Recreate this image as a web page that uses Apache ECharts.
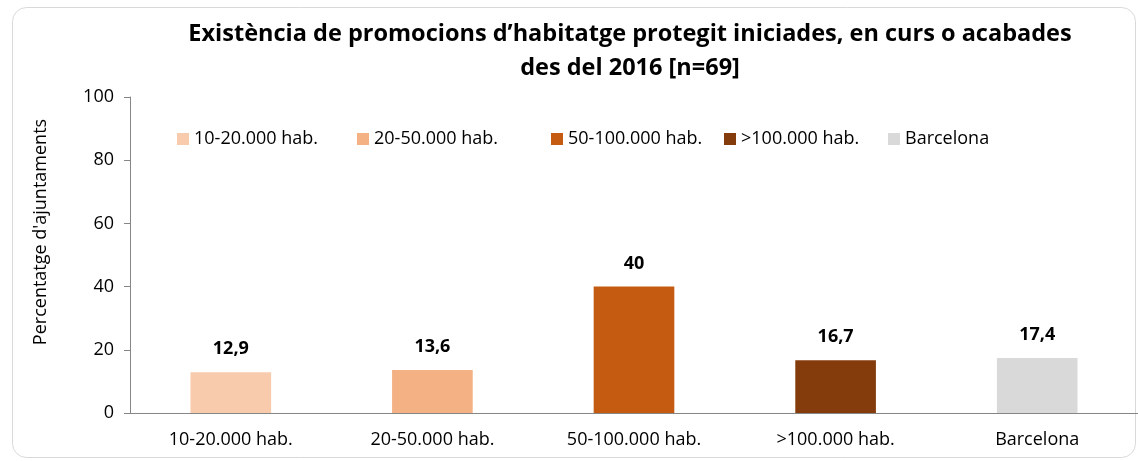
<!DOCTYPE html>
<html>
<head>
<meta charset="utf-8">
<script src="https://cdn.jsdelivr.net/npm/echarts@6/dist/echarts.min.js"></script>
<style>
  html, body { margin: 0; padding: 0; background: #fff; }
  #ech { width: 1138px; height: 461px; }
</style>
</head>
<body>
<div id="ech"></div>
<script>
// categories i valors
var categories = ['10-20.000 hab.', '20-50.000 hab.', '50-100.000 hab.', '>100.000 hab.', 'Barcelona'];
var values = [12.9, 13.6, 40, 16.7, 17.4];
var colors = ['#F8CBAD', '#F4B183', '#C55A11', '#843C0C', '#D9D9D9'];
var yTicks = [0, 20, 40, 60, 80, 100];

var font = 'Open Sans';
// posició x de cada element de la llegenda
var legendLeft = [172, 352, 546, 719, 883];

var ownChart = echarts.init(document.getElementById('ech'));

// una serie per categoria perquè surti a la llegenda
var series = categories.map(function (name, i) {
    return {
        name: name,
        type: 'bar',
        stack: 'tot',
        barWidth: '40%',
        itemStyle: { color: colors[i] },
        label: {
            show: true,
            position: 'top',
            distance: 14,
            fontFamily: font,
            fontWeight: 'bold',
            fontSize: 18,
            color: '#000',
            formatter: function (p) { return String(p.value).replace('.', ','); }
        },
        data: categories.map(function (c, j) { return j === i ? values[i] : null; })
    };
});

var legends = categories.map(function (name, i) {
    return {
        data: [name],
        top: 125,
        left: legendLeft[i],
        itemWidth: 12,
        itemHeight: 12,
        icon: 'rect',
        selectedMode: false,
        textStyle: { fontFamily: font, fontSize: 18, color: '#000' }
    };
});

var option = {
    animation: false,
    title: {
        text: 'Existència de promocions d’habitatge protegit iniciades, en curs o acabades\ndes del 2016 [n=69]',
        left: 625,
        textAlign: 'center',
        top: 12,
        textStyle: {
            fontFamily: font,
            fontWeight: 'bold',
            fontSize: 23.5,
            lineHeight: 34,
            color: '#000'
        }
    },
    legend: legends,
    grid: { left: 130, right: 0, top: 97, bottom: 48 },
    xAxis: {
        type: 'category',
        data: categories,
        axisLine: { lineStyle: { color: '#868686', width: 1 } },
        axisTick: { show: false },
        axisLabel: { fontFamily: font, fontSize: 18, color: '#000', margin: 18 }
    },
    yAxis: {
        type: 'value',
        min: yTicks[0],
        max: yTicks[yTicks.length - 1],
        interval: 20,
        name: "Percentatge d'ajuntaments",
        nameLocation: 'middle',
        nameGap: 80,
        nameTextStyle: { fontFamily: font, fontSize: 18, color: '#000', padding: [0, 0, 0, 46] },
        axisLine: { show: true, lineStyle: { color: '#868686' } },
        axisTick: { show: true, length: 6, lineStyle: { color: '#868686' } },
        splitLine: { show: false },
        axisLabel: { fontFamily: font, fontSize: 18, color: '#000', margin: 16 }
    },
    graphic: [{
        type: 'rect',
        left: 10,
        top: 5,
        shape: { width: 1123, height: 450, r: 14 },
        style: { fill: 'none', stroke: '#D9D9D9', lineWidth: 1 },
        z: -10
    }],
    series: series
};

ownChart.setOption(option);
</script>
</body>
</html>
